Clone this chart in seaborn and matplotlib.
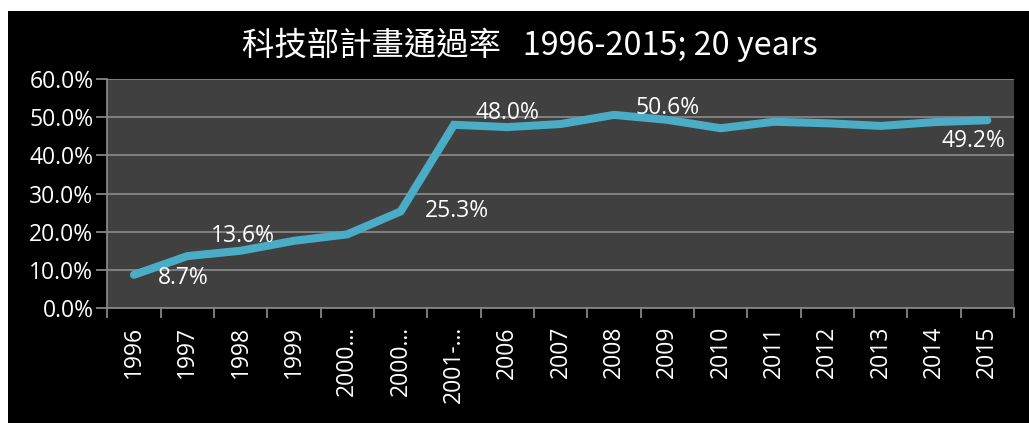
import numpy as np
import pandas as pd
import matplotlib
matplotlib.use("Agg")
import matplotlib.pyplot as plt
import seaborn as sns
from matplotlib.patches import Rectangle
from matplotlib.ticker import PercentFormatter, FixedLocator, NullFormatter

# data
categories = ["1996", "1997", "1998", "1999", "2000…", "2000…", "2001-…", "2006", "2007",
              "2008", "2009", "2010", "2011", "2012", "2013", "2014", "2015"]
rates = [8.7, 13.6, 15.0, 17.6, 19.3, 25.3, 48.0, 47.4, 48.2,
         50.6, 49.3, 47.1, 48.8, 48.4, 47.7, 48.7, 49.2]
labelled = [0, 1, 5, 6, 9, 16]
title = "科技部計畫通過率   1996-2015; 20 years"

df = pd.DataFrame({"pos": np.arange(len(categories)), "rate": np.array(rates) / 100})

sns.set_style("dark")
plt.rcParams["font.family"] = ["Open Sans", "Noto Sans CJK TC", "DejaVu Sans"]

fig = plt.figure(figsize=(10.29, 4.23), dpi=100, facecolor="white")
fig.patches.append(Rectangle((8 / 1029, 0), 1, 1 - 11 / 423, transform=fig.transFigure,
                             facecolor="black", edgecolor="none", zorder=-1))
ax = fig.add_axes([107.3 / 1029, 1 - 308 / 423, (1014 - 107.3) / 1029, (308 - 79) / 423])
ax.set_facecolor("#404040")

line_col = "#4BACC6"
grid_col = "#868686"
sns.lineplot(data=df, x="pos", y="rate", ax=ax, color=line_col, linewidth=5.8,
             solid_capstyle="round", solid_joinstyle="miter", zorder=3)

ax.set_xlim(-0.5, len(categories) - 0.5)
ax.set_ylim(0, 0.6)
ax.set_yticks(np.arange(0, 0.61, 0.1))
ax.yaxis.set_major_formatter(PercentFormatter(1.0, decimals=1))
ax.grid(axis="y", color=grid_col, linewidth=1.3)
ax.grid(axis="x", visible=False)
ax.set_axisbelow(True)

# tick marks between categories, labels in the middle
ax.xaxis.set_major_locator(FixedLocator(np.arange(-0.5, len(categories), 1)))
ax.xaxis.set_major_formatter(NullFormatter())
ax.xaxis.set_minor_locator(FixedLocator(np.arange(len(categories))))
ax.set_xticklabels(categories, minor=True, rotation=90)
ax.tick_params(axis="x", which="major", length=7, width=1.3, color=grid_col, direction="out", bottom=True)
ax.tick_params(axis="x", which="minor", length=0, pad=13, labelsize=16.5, labelcolor="white")
ax.tick_params(axis="y", length=8, width=1.3, color=grid_col, direction="out", left=True,
               labelsize=16.5, labelcolor="white", pad=2)
ax.set_xlabel("")
ax.set_ylabel("")

for s in ["top", "right"]:
    ax.spines[s].set_visible(False)
for s in ["left", "bottom"]:
    ax.spines[s].set_visible(True)
    ax.spines[s].set_color(grid_col)
    ax.spines[s].set_linewidth(1.3)

# data labels (offsets in pixels)
offsets = {0: (49, -3), 1: (56, 20), 5: (56, 0), 6: (53, 12), 9: (54, 7), 16: (-14, -21)}
for i in labelled:
    dx, dy = offsets[i]
    ax.annotate(f"{rates[i]:.1f}%", (i, rates[i] / 100), xytext=(dx, dy),
                textcoords="offset pixels", ha="center", va="center",
                color="white", fontsize=16.5, zorder=4)

fig.text(530 / 1029, 1 - 45 / 423, title, ha="center", va="center", color="white",
         fontsize=23.3, family=["Noto Sans CJK TC", "DejaVu Sans"])

fig.savefig("out.png", dpi=100, facecolor="white")
